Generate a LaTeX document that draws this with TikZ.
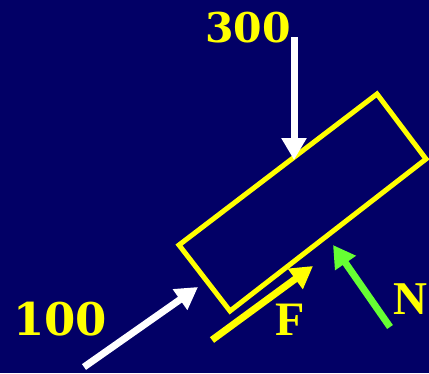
\documentclass[tikz,border=0pt]{standalone}
\usepackage{fontspec}
\setmainfont{Liberation Serif}
\newfontfamily\numfont{DejaVu Serif}
\usetikzlibrary{arrows.meta}
\definecolor{slidebg}{RGB}{2,0,102}
\definecolor{forceyellow}{RGB}{255,255,0}
\definecolor{forcegreen}{RGB}{102,255,51}
\tikzset{
  force/.style={line width=7pt, -{Triangle[width=24pt,length=22pt]}},
  lbl/.style={text=forceyellow, inner sep=0pt}
}
\begin{document}
\begin{tikzpicture}[x=1pt, y=-1pt]

			\fill[slidebg] (0, 0) rectangle (429, 373);
			\useasboundingbox (0, 0) rectangle (429, 373);

			\coordinate (left) at (179, 245);
\coordinate (top) at (377, 94);
\coordinate (right) at (426, 159);
\coordinate (bottom) at (230, 311);

\coordinate (wtail) at (294, 37);
\coordinate (wtip) at (294, 160);
\coordinate (ptail) at (84, 367);
\coordinate (ptip) at (198, 287);
\coordinate (ftail) at (212, 340);
\coordinate (ftip) at (313, 266);
\coordinate (ntail) at (390, 327);
\coordinate (ntip) at (333, 245);

			\draw[forceyellow, line width=5pt] (left) -- (top) -- (right) -- (bottom) -- cycle;

			\draw[force, white] (wtail) -- (wtip);
\draw[force, white] (ptail) -- (ptip);
\draw[force, forceyellow] (ftail) -- (ftip);
\draw[force, forcegreen] (ntail) -- (ntip);

			\node[lbl, font=\numfont\bfseries\fontsize{41}{41}\selectfont] (load) at (248, 28) {300};
\node[lbl, font=\numfont\bfseries\fontsize{45}{45}\selectfont] (push) at (60, 319) {100};
\node[lbl, font=\bfseries\fontsize{48}{48}\selectfont] (fric) at (290, 320) {F};
\node[lbl, font=\bfseries\fontsize{47}{47}\selectfont] (norm) at (410, 299) {N};

		\end{tikzpicture}
\end{document}
